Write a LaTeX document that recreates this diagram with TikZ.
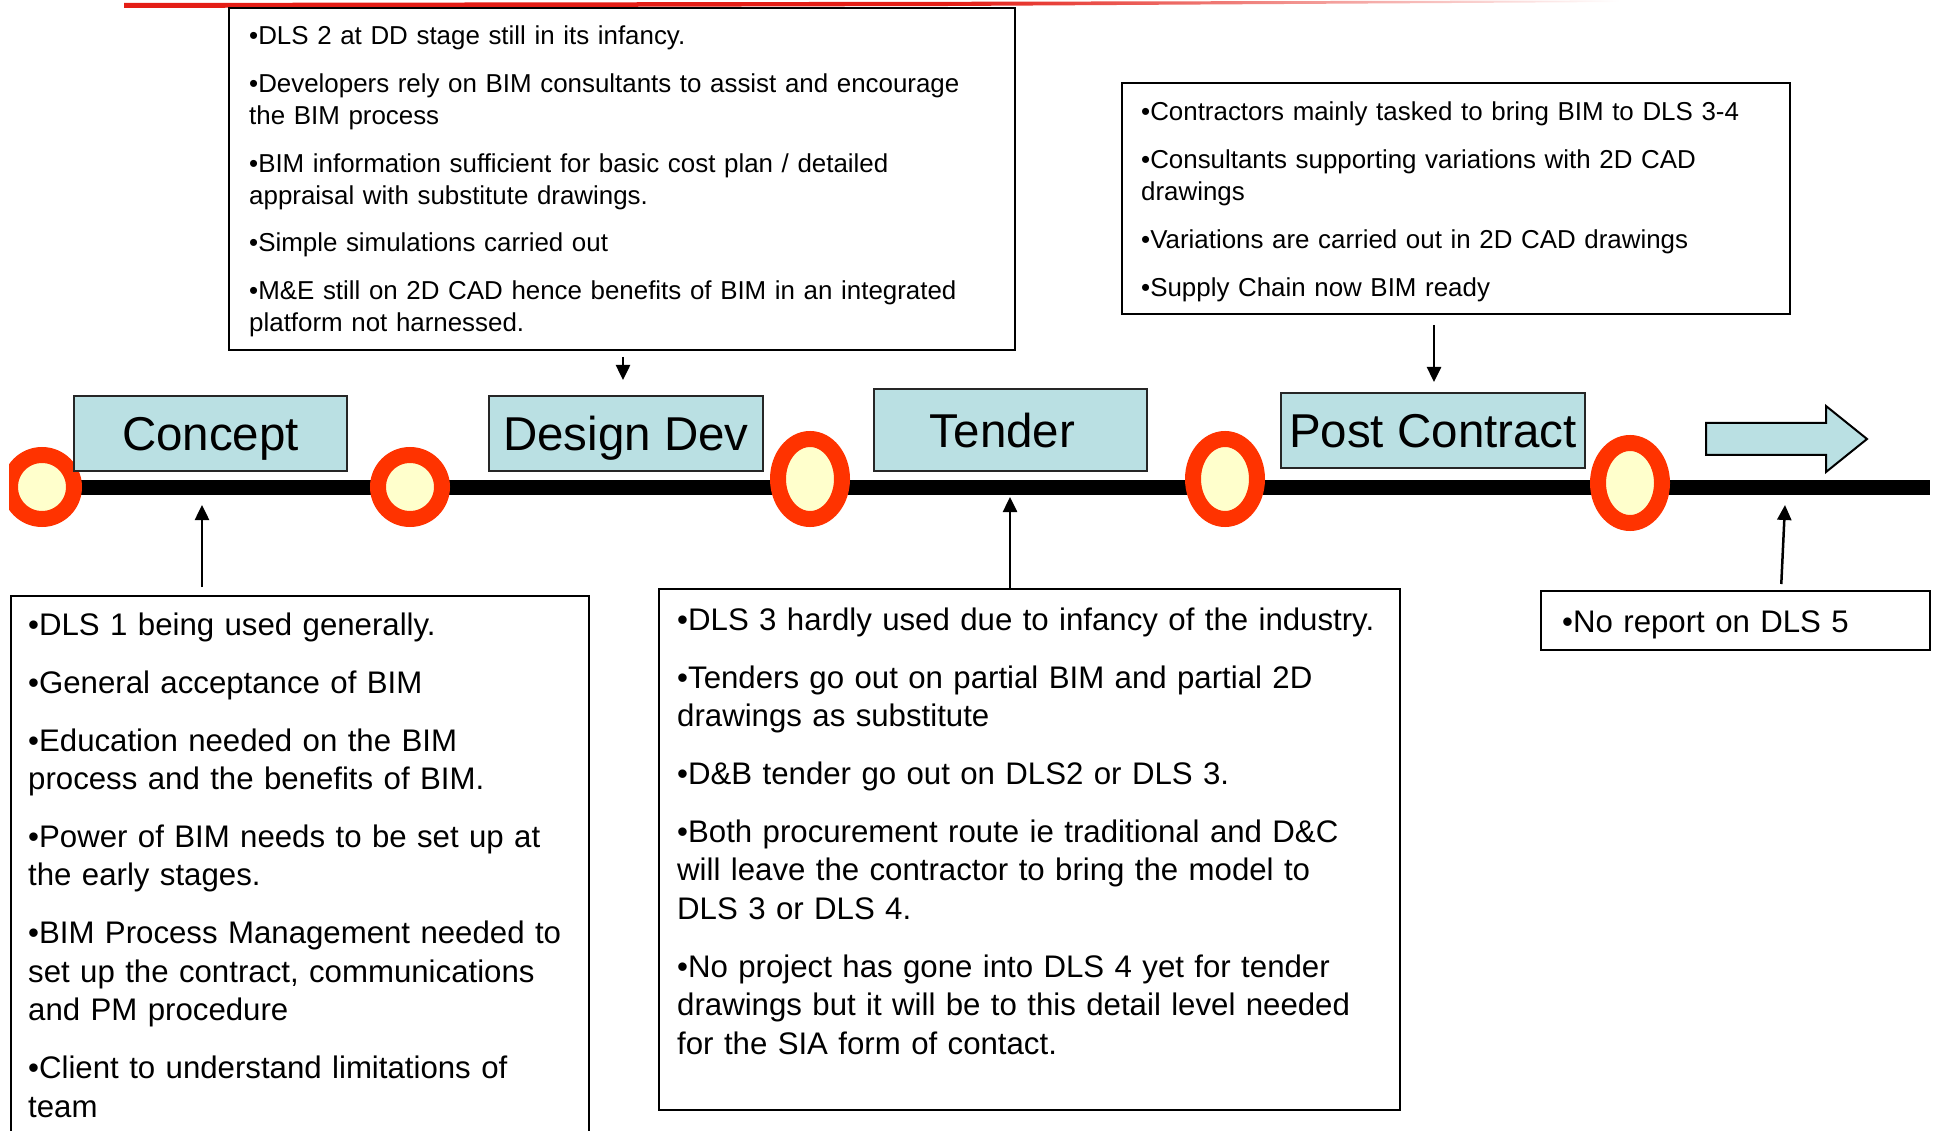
\documentclass[tikz,border=0pt]{standalone}
\usepackage{fontspec}
\setmainfont{Liberation Sans}
\usetikzlibrary{arrows.meta,calc}

\definecolor{phasefill}{RGB}{186,224,227}
\definecolor{ringred}{RGB}{255,51,0}
\definecolor{ringcore}{RGB}{255,255,204}
\definecolor{rulered}{RGB}{228,30,22}

% text sizes of the two kinds of note boxes
\newcommand\notesmall{\fontsize{25.9}{31.9}\selectfont}
\newcommand\notebig{\fontsize{31.2}{38.4}\selectfont}
\newcommand\gapsmall{\\[16pt]}
\newcommand\gapbig{\\[19.6pt]}

\tikzset{
  notebox/.style={draw=black, line width=2pt, inner sep=0pt, anchor=north west},
  notetext/.style={inner sep=0pt, anchor=base west, align=left, text width=900pt},
  phase/.style={draw=black!85, line width=2.5pt, fill=phasefill, inner sep=0pt,
    font=\fontsize{47.5}{57}\selectfont, text height=34pt, text depth=0pt},
  ring/.style={draw=ringred, line width=16pt, fill=ringcore},
  timeline/.style={line width=15pt, black},
  arr/.style={line width=2.5pt, -{Triangle[length=15pt,width=14pt]}},
}

\begin{document}
\begin{tikzpicture}[x=1pt,y=-1pt]
\useasboundingbox (0,0) rectangle (1939,1131);

% red rule along the top edge
\fill[rulered] (124,3) -- (950,1.8) -- (950,6) -- (124,8) -- cycle;
\shade[left color=rulered, right color=white] (950,1.8) -- (1620,0.4) -- (1620,2) -- (950,6) -- cycle;

% note boxes
\node[notebox, minimum width=786pt, minimum height=342pt] (ddnotes) at (228,7) {};
\node[notetext, font=\notesmall] (ddtext) at (249,44.5) {%
•DLS 2 at DD stage still in its infancy.\gapsmall
•Developers rely on BIM consultants to assist and encourage\\
the BIM process\gapsmall
•BIM information sufficient for basic cost plan / detailed\\
appraisal with substitute drawings.\gapsmall
•Simple simulations carried out\gapsmall
•M\&E still on 2D CAD hence benefits of BIM in an integrated\\
platform not harnessed.};

\node[notebox, minimum width=668pt, minimum height=231pt] (pcnotes) at (1121,82) {};
\node[notetext, font=\notesmall] (pctext) at (1141,120.5) {%
•Contractors mainly tasked to bring BIM to DLS 3-4\gapsmall
•Consultants supporting variations with 2D CAD\\
drawings\gapsmall
•Variations are carried out in 2D CAD drawings\gapsmall
•Supply Chain now BIM ready};

\node[notebox, minimum width=578pt, minimum height=560pt] (cnotes) at (10,595) {};
\node[notetext, font=\notebig] (ctext) at (28,635) {%
•DLS 1 being used generally.\gapbig
•General acceptance of BIM\gapbig
•Education needed on the BIM\\
process and the benefits of BIM.\gapbig
•Power of BIM needs to be set up at\\
the early stages.\gapbig
•BIM Process Management needed to\\
set up the contract, communications\\
and PM procedure\gapbig
•Client to understand limitations of\\
team};

\node[notebox, minimum width=741pt, minimum height=521pt] (tnotes) at (658,588) {};
\node[notetext, font=\notebig] (ttext) at (677,630) {%
•DLS 3 hardly used due to infancy of the industry.\gapbig
•Tenders go out on partial BIM and partial 2D\\
drawings as substitute\gapbig
•D\&B tender go out on DLS2 or DLS 3.\gapbig
•Both procurement route ie traditional and D\&C\\
will leave the contractor to bring the model to\\
DLS 3 or DLS 4.\gapbig
•No project has gone into DLS 4 yet for tender\\
drawings but it will be to this detail level needed\\
for the SIA form of contact.};

\node[notebox, minimum width=389pt, minimum height=59pt] (dls5) at (1540,590) {};
\node[notetext, font=\notebig] (dls5text) at (1562,632) {•No report on DLS 5};

% timeline
\coordinate (tlstart) at (40,487);
\coordinate (tlend) at (1930,487);
\draw[timeline] (tlstart) -- (tlend);

% stage markers
\begin{scope}
  \clip (9,400) rectangle (120,580);
  \draw[ring] (42,487) ellipse [x radius=32pt, y radius=32pt];
\end{scope}
\draw[ring] (410,487) ellipse [x radius=32pt, y radius=32pt];
\draw[ring] (810,479) ellipse [x radius=32pt, y radius=40pt];
\draw[ring] (1225,479) ellipse [x radius=32pt, y radius=40pt];
\draw[ring] (1630,483) ellipse [x radius=32pt, y radius=40pt];

% stage labels
\node[phase, minimum width=273pt, minimum height=75pt] (concept) at (210.5,433.5) {Concept};
\node[phase, minimum width=274pt, minimum height=75pt] (designdev) at (626,433.5) {Design Dev};
\node[phase, minimum width=273pt, minimum height=82pt] (tender) at (1010.5,430) {\kern-16pt Tender};
\node[phase, minimum width=304pt, minimum height=75pt] (postcontract) at (1433,430.5) {Post Contract};

% block arrow pointing onwards
\draw[line width=2pt, fill=phasefill] (1706,423) -- (1826,423) -- (1826,406) -- (1867,439)
  -- (1826,472) -- (1826,455) -- (1706,455) -- cycle;

% pointers from notes to the timeline
\coordinate (ddtip) at (623,380);
\coordinate (pctip) at (1434,382);
\coordinate (ctip) at (202,505);
\coordinate (ttip) at (1010,497);
\coordinate (ftip) at (1785,505);
\draw[arr, shorten <=6pt] (ddtip |- ddnotes.south) -- (ddtip);
\draw[arr, shorten <=10pt] (pctip |- pcnotes.south) -- (pctip);
\draw[arr, shorten <=8pt] (ctip |- cnotes.north) -- (ctip);
\draw[arr] (ttip |- tnotes.north) -- (ttip);
\draw[arr, shorten <=6pt] ($(dls5.north west)+(241,0)$) -- (ftip);
\end{tikzpicture}
\end{document}
